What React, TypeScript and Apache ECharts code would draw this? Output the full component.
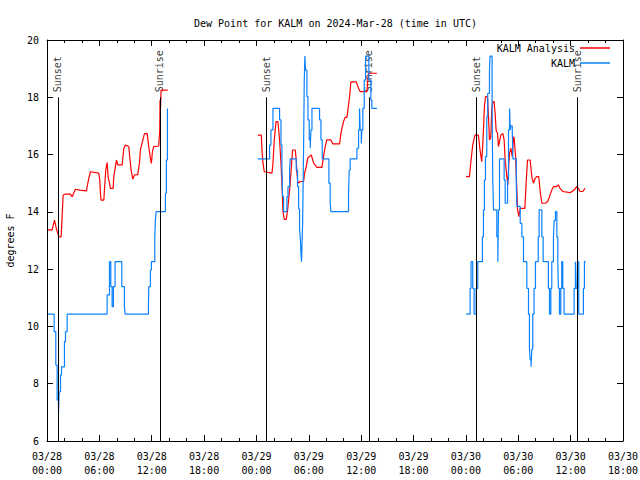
import React, { useEffect, useRef } from "react";
import * as echarts from "echarts";

// Hours since 2024-03-28 00:00 UTC, dew point (F)
const analysisSeg1: [number, number][] = [
  [0.1, 13.37], [0.59, 13.37], [0.86, 13.71], [1.09, 13.39], [1.24, 13.25], [1.35, 13.13], [1.62, 13.13],
  [1.74, 13.89], [1.85, 14.59], [2.12, 14.62], [2.69, 14.62], [2.88, 14.53], [3.07, 14.67], [3.26, 14.79],
  [3.76, 14.76], [4.52, 14.73], [4.6, 14.88], [4.79, 15.17], [4.98, 15.4], [5.93, 15.35], [6.05, 15.11],
  [6.12, 14.65], [6.2, 14.41], [6.51, 14.41], [6.58, 14.76], [6.73, 15.46], [6.89, 15.72], [7.0, 15.23],
  [7.16, 15.0], [7.27, 14.82], [7.58, 14.82], [7.65, 15.23], [7.84, 15.58], [7.96, 15.81], [8.11, 15.64],
  [8.61, 15.64], [8.8, 16.22], [8.99, 16.33], [9.37, 16.28], [9.48, 15.93], [9.64, 15.46], [9.83, 15.14],
  [10.02, 15.29], [10.4, 15.3], [10.59, 15.69], [10.7, 16.16], [10.89, 16.39], [11.16, 16.72], [11.47, 16.74],
  [11.66, 16.28], [11.85, 15.87], [11.96, 15.69], [12.08, 16.1], [12.23, 16.28], [12.8, 16.3], [12.92, 16.86],
  [12.95, 17.9], [12.97, 16.9], [12.99, 17.44], [13.07, 18.25], [13.83, 18.25],
];
const analysisSeg2: [number, number][] = [
  [24.14, 16.68], [24.56, 16.68], [24.63, 16.16], [24.75, 15.69], [24.9, 15.4], [25.78, 15.35], [25.89, 15.69],
  [26.04, 16.51], [26.24, 17.15], [26.46, 17.15], [26.65, 16.51], [26.81, 15.69], [26.92, 15.0], [27.04, 14.0],
  [27.19, 13.74], [27.42, 13.74], [27.57, 14.07], [27.8, 14.76], [27.95, 15.35], [28.14, 16.16], [28.45, 16.16],
  [28.56, 15.81], [28.64, 15.35], [28.75, 15.0], [29.02, 15.06], [29.4, 15.06], [29.52, 15.35], [29.71, 15.58],
  [29.86, 15.87], [30.28, 15.99], [30.55, 15.7], [30.93, 15.55], [31.5, 15.55], [31.69, 15.93], [31.88, 16.28],
  [32.07, 16.51], [32.53, 16.51], [32.76, 16.37], [33.52, 16.37], [33.68, 16.74], [33.83, 16.97], [33.98, 17.15],
  [34.17, 17.3], [34.36, 17.3], [34.48, 17.56], [34.67, 18.02], [34.82, 18.54], [35.43, 18.54], [35.7, 18.31],
  [35.89, 18.2], [36.65, 18.2], [36.84, 18.84], [37.8, 18.84],
];
const analysisSeg3: [number, number][] = [
  [48.03, 15.23], [48.4, 15.23], [48.55, 15.69], [48.78, 16.33], [49.04, 16.68], [49.43, 16.68], [49.62, 16.16],
  [49.81, 15.75], [49.93, 16.33], [50.01, 16.86], [50.12, 17.67], [50.24, 18.02], [50.47, 18.02], [50.58, 17.38],
  [50.7, 16.51], [50.85, 16.62], [50.96, 17.56], [51.08, 17.85], [51.23, 17.85], [51.35, 17.44], [51.46, 16.86],
  [51.62, 16.74], [51.73, 16.28], [51.85, 16.45], [52.0, 16.68], [52.23, 16.74], [52.38, 16.51], [52.5, 15.81],
  [52.69, 15.23], [52.81, 14.94], [52.92, 15.69], [53.0, 16.04], [53.15, 16.22], [53.31, 15.93], [53.46, 16.62],
  [53.54, 16.55], [53.69, 15.93], [53.84, 14.76], [53.92, 14.07], [54.07, 13.83], [54.22, 14.12], [54.75, 14.12],
  [54.9, 15.0], [55.06, 15.81], [55.36, 15.81], [55.55, 15.23], [55.74, 15.0], [55.93, 15.17], [56.12, 15.23],
  [56.35, 15.23], [56.51, 14.71], [56.7, 14.3], [57.08, 14.3], [57.35, 14.35], [57.58, 14.53], [57.84, 14.76],
  [58.03, 14.88], [58.34, 14.88], [58.6, 14.94], [58.79, 14.82], [59.1, 14.71], [59.94, 14.67], [60.4, 14.76],
  [60.7, 14.88], [60.89, 14.82], [61.08, 14.71], [61.39, 14.71], [61.65, 14.82],
];

const obsSeg1: [number, number][] = [
  [0.1, 10.43], [0.82, 9.82], [1.01, 8.65], [1.16, 7.43], [1.32, 7.0], [1.39, 7.72], [1.55, 8.3], [1.66, 8.59],
  [2.0, 9.47], [2.12, 9.82], [2.31, 10.43], [6.89, 11.1], [7.16, 12.26], [7.31, 11.39], [7.46, 10.69],
  [7.61, 11.39], [7.8, 12.26], [8.57, 11.39], [8.87, 10.69], [8.95, 10.43], [11.62, 10.69], [11.66, 11.39],
  [11.85, 11.97], [11.96, 12.26], [12.35, 13.08], [12.42, 13.71], [12.5, 14.01], [13.57, 14.65], [13.68, 15.81],
  [13.8, 17.61],
];
const obsSeg2: [number, number][] = [
  [24.14, 15.85], [25.51, 16.33], [25.66, 16.86], [25.89, 17.61], [26.65, 17.21], [26.81, 16.33], [26.92, 15.46],
  [27.0, 14.53], [27.11, 14.01], [27.49, 14.53], [27.61, 14.88], [27.8, 15.46], [27.87, 15.85], [28.56, 15.46],
  [28.71, 14.88], [28.83, 14.1], [28.94, 13.37], [29.02, 13.13], [29.1, 12.55], [29.17, 12.26], [29.21, 12.8],
  [29.29, 13.6], [29.33, 14.53], [29.4, 16.28], [29.48, 18.6], [29.55, 19.44], [29.63, 18.95], [29.78, 18.02],
  [29.9, 17.21], [30.05, 16.51], [30.16, 16.22], [30.24, 16.86], [30.36, 17.61], [31.23, 17.21], [31.39, 16.51],
  [31.54, 15.85], [32.3, 15.0], [32.45, 14.3], [32.53, 14.01], [34.55, 14.65], [34.63, 15.46], [34.74, 15.85],
  [35.51, 16.22], [35.7, 16.86], [35.81, 17.61], [35.89, 16.86], [36.01, 16.39], [36.08, 16.86], [36.19, 17.61],
  [36.35, 18.6], [36.5, 19.44], [36.73, 19.44], [36.88, 18.6], [37.11, 17.9], [37.22, 17.61], [37.8, 17.61],
];
const obsSeg3: [number, number][] = [
  [48.03, 10.43], [48.48, 11.33], [48.59, 12.26], [48.78, 11.33], [48.94, 10.43], [49.17, 11.33], [49.36, 12.26],
  [49.89, 13.13], [50.01, 14.07], [50.12, 15.11], [50.24, 15.93], [50.39, 17.32], [50.5, 18.14], [50.7, 18.95],
  [50.77, 19.44], [51.0, 17.6], [51.08, 15.11], [51.16, 14.07], [51.54, 13.13], [51.66, 12.26], [51.73, 14.07],
  [51.85, 15.85], [52.38, 15.11], [52.5, 14.3], [52.77, 15.11], [52.88, 16.86], [53.0, 17.61], [53.08, 16.86],
  [53.15, 17.0], [53.31, 16.86], [53.38, 15.85], [53.77, 15.0], [53.84, 14.19], [54.22, 13.6], [54.41, 13.13],
  [54.6, 12.26], [54.98, 11.33], [55.17, 10.43], [55.28, 9.23], [55.36, 8.83], [55.47, 8.59], [55.55, 9.2],
  [55.66, 10.43], [55.81, 11.33], [55.97, 12.26], [56.29, 13.13], [56.39, 14.07], [56.7, 13.13], [56.85, 12.26],
  [57.45, 11.33], [57.58, 10.43], [57.73, 11.33], [57.84, 12.26], [58.03, 13.13], [58.11, 13.7], [58.26, 14.01],
  [58.42, 13.13], [58.53, 12.26], [58.6, 11.33], [58.72, 10.43], [58.87, 11.33], [58.98, 12.26], [59.1, 11.33],
  [59.25, 10.43], [60.4, 11.33], [60.55, 12.26], [60.62, 11.33], [60.78, 12.26], [60.93, 10.43], [61.46, 11.33],
  [61.58, 12.26], [61.73, 12.26],
];

const sunTimes = [1.25, 12.92, 25.15, 36.87, 49.2, 60.75];
const sunLabels = ["Sunset", "Sunrise", "Sunset", "Sunrise", "Sunset", "Sunrise"];

const xTickLabels = [
  "03/28\n00:00", "03/28\n06:00", "03/28\n12:00", "03/28\n18:00",
  "03/29\n00:00", "03/29\n06:00", "03/29\n12:00", "03/29\n18:00",
  "03/30\n00:00", "03/30\n06:00", "03/30\n12:00", "03/30\n18:00",
];
const yTicks = { min: 6, max: 20, step: 2 };

const FONT = "DejaVu Sans Mono";

function joinSegments(segs: [number, number][][]): any[] {
  const out: any[] = [];
  segs.forEach((s, i) => {
    if (i > 0) {
      const prev = segs[i - 1];
      out.push([prev[prev.length - 1][0], "-"]);
    }
    s.forEach((p) => out.push(p));
  });
  return out;
}

export default function App() {
  const ref = useRef<HTMLDivElement>(null);
  useEffect(() => {
    document.body.style.margin = "0";
    const chart = echarts.init(ref.current!, null, { renderer: "svg" });
    const txt = { fontFamily: FONT, fontSize: 10, color: "#000" };
    const axisCommon = {
      type: "value" as const,
      axisLine: { show: true, onZero: false, lineStyle: { color: "#000", width: 1 } },
      splitLine: { show: false },
    };
    chart.setOption({
      animation: false,
      backgroundColor: "#fff",
      title: {
        text: "Dew Point for KALM on 2024-Mar-28 (time in UTC)",
        left: 189,
        top: 13,
        textStyle: { ...txt, fontWeight: "normal" },
      },
      legend: {
        orient: "vertical",
        align: "right",
        right: 25,
        top: 37,
        itemWidth: 30,
        itemHeight: 1.5,
        itemGap: 3,
        icon: "rect",
        textStyle: { ...txt, lineHeight: 12 },
        data: ["KALM Analysis", "KALM"],
      },
      grid: { left: 47, right: 17, top: 40, bottom: 39, outerBoundsMode: "none", containLabel: false },
      xAxis: [
        {
          ...axisCommon,
          min: 0,
          max: 66,
          interval: 6,
          position: "bottom",
          axisTick: { show: true, inside: true, length: 6, lineStyle: { color: "#000" } },
          minorTick: { show: true, splitNumber: 3, length: 3, lineStyle: { color: "#000" } },
          axisLabel: {
            ...txt,
            margin: 8,
            lineHeight: 14,
            formatter: (v: number) => xTickLabels[Math.round(v / 6)] ?? "",
          },
        },
        {
          ...axisCommon,
          min: 0,
          max: 66,
          interval: 6,
          position: "top",
          axisTick: { show: true, inside: true, length: 6, lineStyle: { color: "#000" } },
          minorTick: { show: true, splitNumber: 3, length: 3, lineStyle: { color: "#000" } },
          axisLabel: { show: false },
        },
      ],
      yAxis: [
        {
          ...axisCommon,
          min: yTicks.min,
          max: yTicks.max,
          interval: yTicks.step,
          position: "left",
          name: "degrees F",
          nameLocation: "middle",
          nameGap: 32,
          nameRotate: 90,
          nameTextStyle: txt,
          axisTick: { show: true, inside: true, length: 6, lineStyle: { color: "#000" } },
          axisLabel: { ...txt, margin: 8 },
        },
        {
          ...axisCommon,
          min: yTicks.min,
          max: yTicks.max,
          interval: yTicks.step,
          position: "right",
          axisTick: { show: true, inside: true, length: 6, lineStyle: { color: "#000" } },
          axisLabel: { show: false },
        },
      ],
      series: [
        {
          name: "KALM Analysis",
          type: "line",
          data: joinSegments([analysisSeg1, analysisSeg2, analysisSeg3]),
          showSymbol: false,
          symbol: "none",
          connectNulls: false,
          lineStyle: { color: "#ff0000", width: 1.2 },
          itemStyle: { color: "#ff0000" },
        },
        {
          name: "KALM",
          type: "line",
          step: "end",
          data: joinSegments([obsSeg1, obsSeg2, obsSeg3]),
          showSymbol: false,
          symbol: "none",
          connectNulls: false,
          lineStyle: { color: "#0a82ff", width: 1.2 },
          itemStyle: { color: "#0a82ff" },
        },
        {
          name: "sun",
          type: "scatter",
          symbolSize: 0,
          silent: true,
          data: sunTimes.map((t, i) => ({ value: [t, 18], name: sunLabels[i] })),
          label: {
            show: true,
            formatter: "{b}",
            position: "top",
            distance: 5,
            rotate: 90,
            align: "left",
            verticalAlign: "middle",
            ...txt,
          },
          markLine: {
            silent: true,
            symbol: ["none", "none"],
            label: { show: false },
            lineStyle: { color: "#000", width: 1, type: "solid" },
            data: sunTimes.map((t) => [{ coord: [t, 6] }, { coord: [t, 18] }]),
          },
        },
      ],
    });
    return () => chart.dispose();
  }, []);
  return <div ref={ref} style={{ width: 640, height: 480 }} />;
}
